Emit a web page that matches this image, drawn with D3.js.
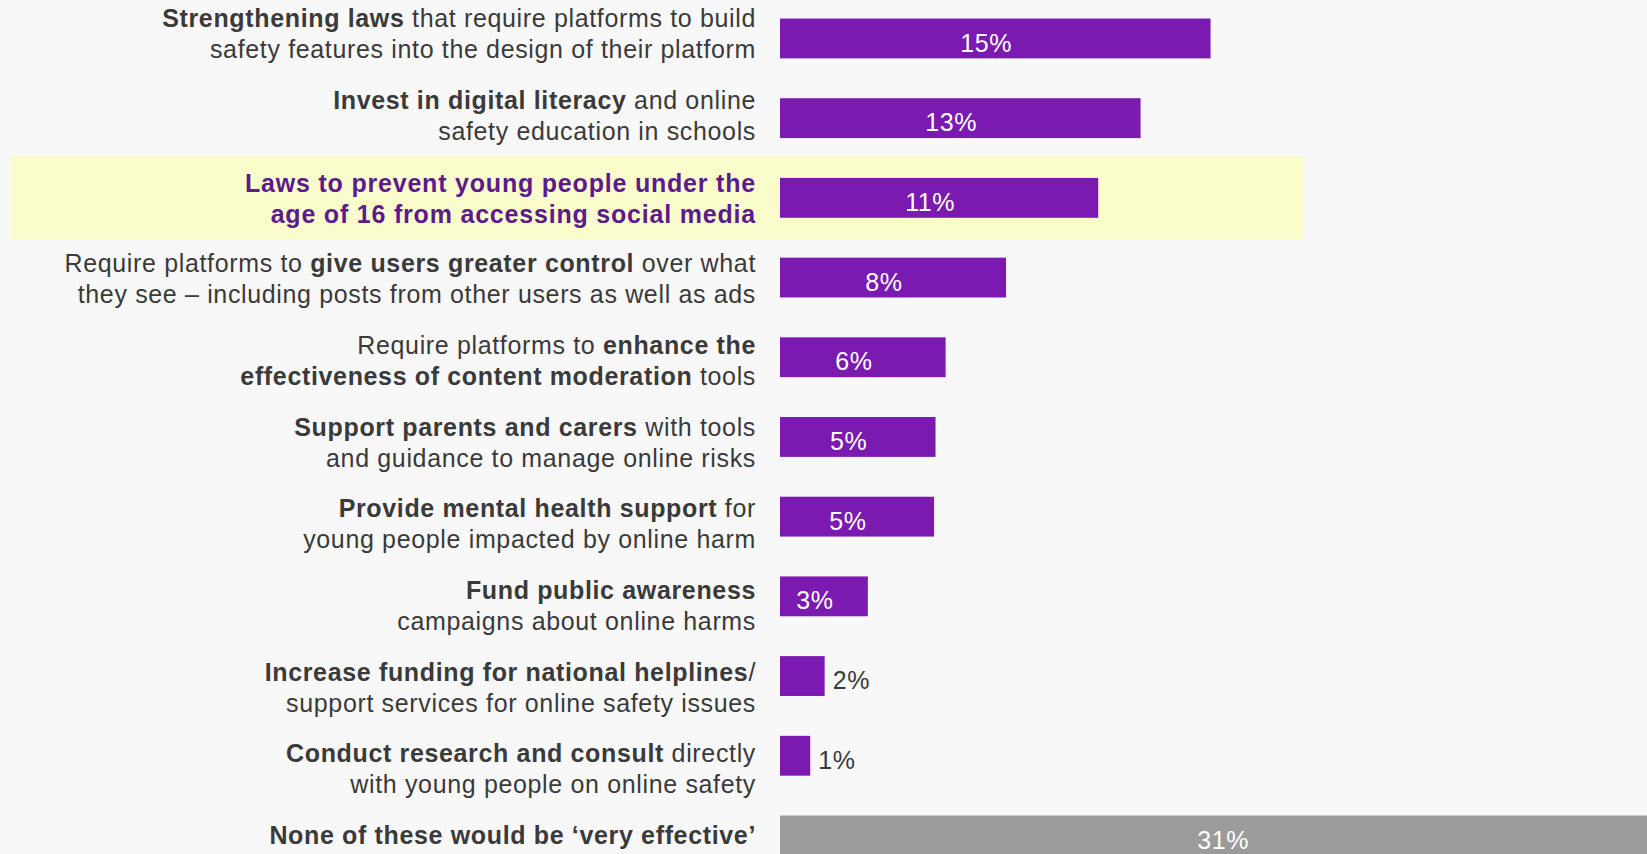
<!DOCTYPE html>
<html>
<head>
<meta charset="utf-8">
<script src="https://cdn.jsdelivr.net/npm/d3@7"></script>
<style>
  html, body { margin: 0; padding: 0; background: #f8f8f8; overflow: hidden; }
  svg { display: block; font-family: "Liberation Sans", Arial, sans-serif; }
</style>
</head>
<body>
<div id="chart"></div>
<script>
// ** marks bold runs, | splits the two lines of a label
var categories = [
    "**Strengthening laws** that require platforms to build|safety features into the design of their platform",
    "**Invest in digital literacy** and online|safety education in schools",
    "**Laws to prevent young people under the|age of 16 from accessing social media**",
    "Require platforms to **give users greater control** over what|they see – including posts from other users as well as ads",
    "Require platforms to **enhance the|effectiveness of content moderation** tools",
    "**Support parents and carers** with tools|and guidance to manage online risks",
    "**Provide mental health support** for|young people impacted by online harm",
    "**Fund public awareness**|campaigns about online harms",
    "**Increase funding for national helplines**/|support services for online safety issues",
    "**Conduct research and consult** directly|with young people on online safety",
    "**None of these would be ‘very effective’**"
];
var values = [14.95, 12.52, 11.05, 7.85, 5.75, 5.4, 5.35, 3.05, 1.55, 1.05, 31.4];
var highlighted = [2];
var noneRow = [10];

function create_bar_chart(wanted_element) {
    var width = 1647,
        height = 854;

    var svg = d3.select(wanted_element).append("svg")
        .attr("width", width)
        .attr("height", height);

    var rows = d3.range(categories.length);

    var x = d3.scaleLinear().domain([0, 31]).range([780, 780 + 31 * 28.8]);
    // bars and the text blocks sit on slightly different pitches in the original
    var y = d3.scaleBand().domain(rows).range([-1.4, -1.4 + 11 * 79.7])
        .paddingInner(0.5).paddingOuter(0.25);
    var yText = d3.scaleBand().domain(rows).range([27, 27 + 11 * 81.7]);

    // highlight band behind the under-16 row
    svg.selectAll(".hl").data(highlighted).enter().append("rect")
        .attr("class", "hl")
        .attr("x", 11)
        .attr("y", function (d) { return y(d) + y.bandwidth() / 2 - 42; })
        .attr("width", 1304 - 11)
        .attr("height", 84)
        .style("fill", "#fafccc");

    svg.selectAll(".bar").data(values).enter().append("rect")
        .attr("class", "bar")
        .attr("x", x(0))
        .attr("y", function (d, i) { return y(i); })
        .attr("width", function (d) { return x(d) - x(0); })
        .attr("height", y.bandwidth())
        .style("fill", function (d, i) { return noneRow.indexOf(i) >= 0 ? "#9b9b9b" : "#7a1ab0"; });

    // value labels: white inside the bar, dark beside short bars
    svg.selectAll(".val").data(values).enter().append("text")
        .attr("class", "val")
        .attr("x", function (d) {
            var w = x(d) - x(0);
            return w < 60 ? x(d) + 8 : x(0) + w / 2 - 9;
        })
        .attr("y", function (d, i) { return y(i) + 33; })
        .attr("text-anchor", function (d) { return x(d) - x(0) < 60 ? "start" : "middle"; })
        .style("font-size", "25px")
        .style("letter-spacing", "0.6px")
        .style("fill", function (d) { return x(d) - x(0) < 60 ? "#3a3a3a" : "#ffffff"; })
        .text(function (d) { return Math.round(d) + "%"; });

    // category labels, split into lines and bold runs
    rows.forEach(function (i) {
        var isHl = highlighted.indexOf(i) >= 0;
        var bold = false;
        categories[i].split("|").forEach(function (line, li) {
            var t = svg.append("text")
                .attr("x", 756)
                .attr("y", yText(i) + li * 31 + (isHl ? 2 : 0))
                .attr("text-anchor", "end")
                .style("font-size", "25px")
                .style("letter-spacing", isHl ? "0.8px" : "0.65px")
                .style("fill", isHl ? "#5c1a8c" : "#3a3a3a");
            line.split("**").forEach(function (part, pi) {
                if (pi > 0) bold = !bold;
                if (part === "") return;
                t.append("tspan")
                    .style("font-weight", bold ? "bold" : "normal")
                    .text(part);
            });
        });
    });
}

create_bar_chart("#chart");
</script>
</body>
</html>
